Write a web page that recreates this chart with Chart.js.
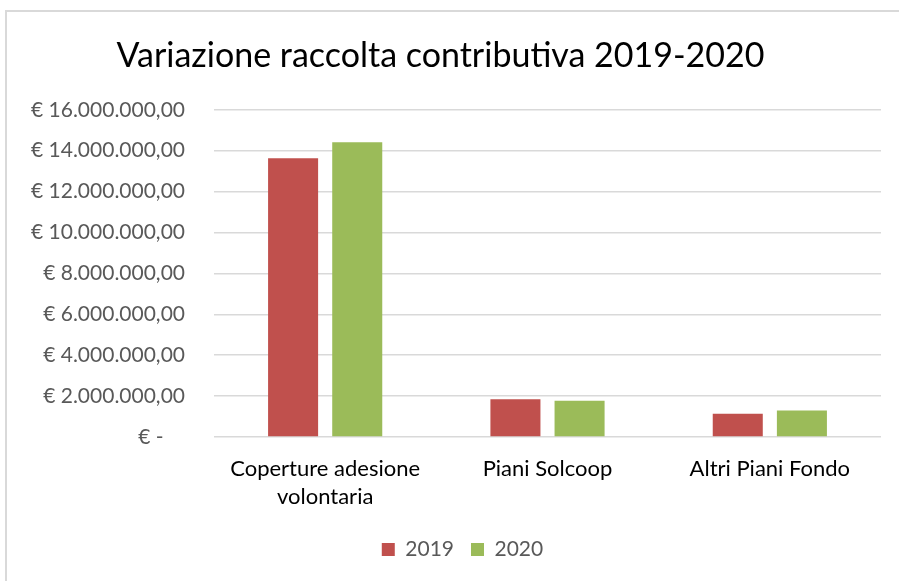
<!DOCTYPE html>
<html>
<head>
<meta charset="utf-8">
<script src="https://cdn.jsdelivr.net/npm/chart.js@4.4.1/dist/chart.umd.min.js"></script>
<style>
  html, body { margin: 0; padding: 0; background: #fff; }
  #wrap { position: relative; width: 899px; height: 581px; overflow: hidden; }
  #frame {
    position: absolute; left: 5px; top: 10px; width: 910px; height: 600px;
    border: 2px solid #d9d9d9; box-sizing: border-box;
  }
  #chartCanvas { position: absolute; left: 0; top: 0; }
</style>
</head>
<body>
<div id="wrap">
  <div id="frame"></div>
  <canvas id="chartCanvas" width="899" height="581"></canvas>
</div>
<script>
const categories = [["Coperture adesione", "volontaria"], "Piani Solcoop", "Altri Piani Fondo"];
const series2019 = [13630000, 1850000, 1140000];
const series2020 = [14410000, 1770000, 1290000];
const yTicks = [0, 2000000, 4000000, 6000000, 8000000, 10000000, 12000000, 14000000, 16000000];

const FONT = "Lato, 'Open Sans', sans-serif";

function euro(v) {
  if (v === 0) return "€ -    ";
  let s = Math.round(v).toString().replace(/\B(?=(\d{3})+(?!\d))/g, ".");
  return "€ " + s + ",00";
}

// legend in the reference sits centred on the whole frame, not the plot
const shiftLegend = {
  id: "shiftLegend",
  afterLayout(chart) {
    chart.legend.left += 22;
    chart.legend.right += 22;
  },
};

const ctx = document.getElementById("chartCanvas").getContext("2d");

new Chart(ctx, {
  type: "bar",
  data: {
    labels: categories,
    datasets: [
      {
        label: "2019",
        data: series2019,
        backgroundColor: "#c0504d",
        categoryPercentage: 0.577,
        barPercentage: 0.78,
      },
      {
        label: "2020",
        data: series2020,
        backgroundColor: "#9bbb59",
        categoryPercentage: 0.577,
        barPercentage: 0.78,
      },
    ],
  },
  options: {
    responsive: false,
    animation: false,
    layout: {
      padding: { left: 0, right: 18, top: 0, bottom: 11 },
    },
    plugins: {
      title: {
        display: true,
        text: "Variazione raccolta contributiva 2019-2020",
        color: "#000",
        font: { family: FONT, size: 34, weight: "normal" },
        padding: { top: 36, bottom: 33 },
      },
      legend: {
        position: "bottom",
        labels: {
          color: "#595959",
          font: { family: FONT, size: 21 },
          boxWidth: 13,
          boxHeight: 13,
          padding: 17,
        },
      },
      tooltip: { enabled: false },
    },
    scales: {
      x: {
        grid: { display: false, drawTicks: false },
        border: { display: false },
        ticks: {
          color: "#000",
          font: { family: FONT, size: 22, lineHeight: 1.27 },
          padding: 18,
          maxRotation: 0,
          autoSkip: false,
        },
        afterFit: (scale) => {
          scale.height = 85;
        },
      },
      y: {
        min: 0,
        max: 16000000,
        afterBuildTicks: (scale) => {
          scale.ticks = yTicks.map((v) => ({ value: v }));
        },
        grid: { color: "#d9d9d9", lineWidth: 1.5, drawTicks: false },
        border: { display: false },
        ticks: {
          color: "#595959",
          font: { family: FONT, size: 21 },
          padding: 29,
          callback: (v) => euro(v),
        },
        afterFit: (scale) => {
          scale.width = 214;
        },
      },
    },
  },
  plugins: [shiftLegend],
});
</script>
</body>
</html>
